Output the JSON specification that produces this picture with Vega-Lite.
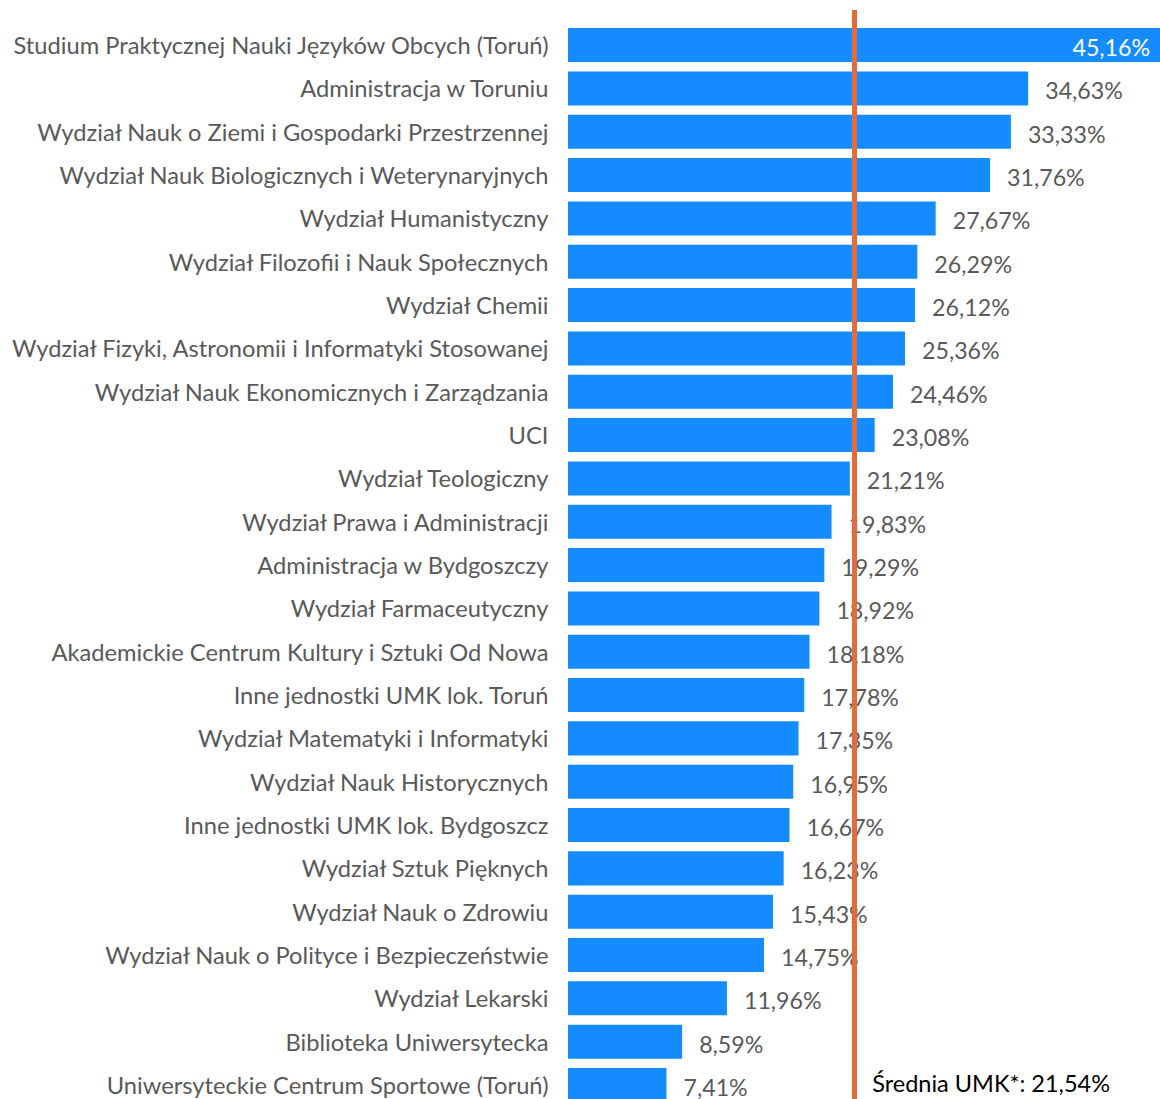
{
  "$schema": "https://vega.github.io/schema/vega-lite/v6.json",
  "autosize": {"type": "none"},
  "padding": {"left": 568, "top": 10, "right": 0, "bottom": 0},
  "width": 592,
  "height": 1096,
  "background": "white",
  "config": {"view": {"stroke": null}, "font": "Lato"},
  "data": {"values": [
    {"unit": "Studium Praktycznej Nauki Języków Obcych (Toruń)", "value": 45.16, "label": "45,16%"},
    {"unit": "Administracja w Toruniu", "value": 34.63, "label": "34,63%"},
    {"unit": "Wydział Nauk o Ziemi i Gospodarki Przestrzennej", "value": 33.33, "label": "33,33%"},
    {"unit": "Wydział Nauk Biologicznych i Weterynaryjnych", "value": 31.76, "label": "31,76%"},
    {"unit": "Wydział Humanistyczny", "value": 27.67, "label": "27,67%"},
    {"unit": "Wydział Filozofii i Nauk Społecznych", "value": 26.29, "label": "26,29%"},
    {"unit": "Wydział Chemii", "value": 26.12, "label": "26,12%"},
    {"unit": "Wydział Fizyki, Astronomii i Informatyki Stosowanej", "value": 25.36, "label": "25,36%"},
    {"unit": "Wydział Nauk Ekonomicznych i Zarządzania", "value": 24.46, "label": "24,46%"},
    {"unit": "UCI", "value": 23.08, "label": "23,08%"},
    {"unit": "Wydział Teologiczny", "value": 21.21, "label": "21,21%"},
    {"unit": "Wydział Prawa i Administracji", "value": 19.83, "label": "19,83%"},
    {"unit": "Administracja w Bydgoszczy", "value": 19.29, "label": "19,29%"},
    {"unit": "Wydział Farmaceutyczny", "value": 18.92, "label": "18,92%"},
    {"unit": "Akademickie Centrum Kultury i Sztuki Od Nowa", "value": 18.18, "label": "18,18%"},
    {"unit": "Inne jednostki UMK lok. Toruń", "value": 17.78, "label": "17,78%"},
    {"unit": "Wydział Matematyki i Informatyki", "value": 17.35, "label": "17,35%"},
    {"unit": "Wydział Nauk Historycznych", "value": 16.95, "label": "16,95%"},
    {"unit": "Inne jednostki UMK lok. Bydgoszcz", "value": 16.67, "label": "16,67%"},
    {"unit": "Wydział Sztuk Pięknych", "value": 16.23, "label": "16,23%"},
    {"unit": "Wydział Nauk o Zdrowiu", "value": 15.43, "label": "15,43%"},
    {"unit": "Wydział Nauk o Polityce i Bezpieczeństwie", "value": 14.75, "label": "14,75%"},
    {"unit": "Wydział Lekarski", "value": 11.96, "label": "11,96%"},
    {"unit": "Biblioteka Uniwersytecka", "value": 8.59, "label": "8,59%"},
    {"unit": "Uniwersyteckie Centrum Sportowe (Toruń)", "value": 7.41, "label": "7,41%"}
  ]},
  "encoding": {
    "y": {
      "field": "unit", "type": "nominal", "sort": null,
      "scale": {"paddingInner": 0.215, "paddingOuter": 0.2545, "align": 0.82},
      "axis": {"title": null, "ticks": false, "domain": false, "labelFontSize": 23.7, "labelColor": "#595959", "labelPadding": 20, "labelLimit": 600, "labelFont": "Lato", "labelOffset": 2}
    },
    "x": {"field": "value", "type": "quantitative", "scale": {"domain": [0, 44.55], "nice": false}, "axis": null}
  },
  "layer": [
    {"mark": {"type": "bar", "color": "#148cff"}},
    {
      "transform": [{"filter": "datum.value < 40"}],
      "mark": {"type": "text", "align": "left", "baseline": "middle", "dx": 17, "dy": 4, "fontSize": 23.2, "color": "#595959"},
      "encoding": {"text": {"field": "label"}}
    },
    {
      "transform": [{"filter": "datum.value >= 40"}],
      "mark": {"type": "text", "align": "right", "baseline": "middle", "dx": -18, "dy": 4, "fontSize": 23.2, "color": "#ffffff"},
      "encoding": {"text": {"field": "label"}}
    },
    {
      "mark": {"type": "rule", "color": "#e46c3a", "strokeWidth": 4},
      "encoding": {"x": {"datum": 21.54}, "y": null}
    },
    {
      "transform": [{"filter": "datum.value < 8"}],
      "mark": {"type": "text", "align": "left", "baseline": "middle", "dx": 18, "dy": 0, "fontSize": 23.5, "color": "#000000"},
      "encoding": {"x": {"datum": 21.54}, "text": {"value": "Średnia UMK*: 21,54%"}}
    }
  ]
}
